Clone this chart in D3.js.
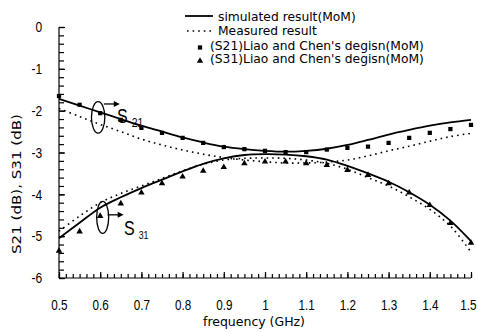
<!DOCTYPE html>
<html>
<head>
<meta charset="utf-8">
<script src="https://cdn.jsdelivr.net/npm/d3@7"></script>
<style>
  body { margin: 0; background: #fff; }
  .legend text { font-family: "DejaVu Sans", sans-serif; font-size: 12.3px; }
  .label { font-family: "DejaVu Sans", sans-serif; font-size: 13px; }
</style>
</head>
<body>
<div id="chart"></div>
<script>
// frequency points (GHz)
var freq = [0.5, 0.55, 0.6, 0.65, 0.7, 0.75, 0.8, 0.85, 0.9, 0.95, 1.0,
            1.05, 1.1, 1.15, 1.2, 1.25, 1.3, 1.35, 1.4, 1.45, 1.5];

// simulated (MoM)
var s21Sim = [-1.72, -1.88, -2.04, -2.2, -2.36, -2.5, -2.64, -2.76, -2.86, -2.92, -2.96,
              -2.98, -2.96, -2.91, -2.82, -2.7, -2.57, -2.46, -2.36, -2.28, -2.22];
var s31Sim = [-5.05, -4.68, -4.32, -4.07, -3.85, -3.65, -3.45, -3.27, -3.14, -3.06, -3.04,
              -3.05, -3.09, -3.17, -3.32, -3.5, -3.7, -3.95, -4.25, -4.63, -5.12];

// measured
var s21Meas = [-1.95, -2.14, -2.33, -2.5, -2.68, -2.82, -2.94, -3.04, -3.12, -3.18, -3.22,
               -3.25, -3.25, -3.23, -3.18, -3.08, -2.96, -2.85, -2.73, -2.62, -2.54];
var s31Meas = [-4.88, -4.52, -4.2, -3.98, -3.8, -3.62, -3.44, -3.28, -3.18, -3.14, -3.13,
               -3.14, -3.18, -3.26, -3.4, -3.6, -3.8, -4.06, -4.36, -4.76, -5.38];

// Liao and Chen's design (MoM)
var s21Liao = [-1.65, -1.86, -2.06, -2.22, -2.41, -2.53, -2.65, -2.77, -2.87, -2.92, -2.96,
               -2.99, -2.99, -2.93, -2.89, -2.86, -2.77, -2.65, -2.53, -2.44, -2.34];
var s31Liao = [-5.35, -4.89, -4.52, -4.22, -3.96, -3.74, -3.58, -3.44, -3.35, -3.26, -3.22,
               -3.22, -3.26, -3.3, -3.42, -3.54, -3.74, -3.96, -4.26, -4.69, -5.16];

var xTicks = [0.5, 0.6, 0.7, 0.8, 0.9, 1, 1.1, 1.2, 1.3, 1.4, 1.5];
var xTickLabels = ["0.5", "0.6", "0.7", "0.8", "0.9", "1", "1.1", "1.2", "1.3", "1.4", "1.5"];
var yTicks = [0, -1, -2, -3, -4, -5, -6];
var yTickLabels = ["0", "-1", "-2", "-3", "-4", "-5", "-6"];

var legendLabels = ["simulated result(MoM)", "Measured result",
                    "(S21)Liao and Chen's degisn(MoM)", "(S31)Liao and Chen's degisn(MoM)"];

var width = 477, height = 333;
var tickFont = "'Liberation Sans', Arial, sans-serif";

var svg = d3.select("#chart").append("svg")
    .attr("width", width)
    .attr("height", height);

var x = d3.scaleLinear().domain([0.5, 1.5]).range([59, 471]);
var y = d3.scaleLinear().domain([-6, 0]).range([278, 27]);

// minor ticks
var xMinor = d3.range(0, 61).map(function(i) { return 0.5 + i / 60; });
var yMinor = d3.range(0, 31).map(function(i) { return -6 + i * 0.2; });

svg.append("g")
    .attr("transform", "translate(0," + y(-6) + ")")
    .call(d3.axisBottom(x).tickValues(xMinor).tickSize(-4).tickFormat(""))
    .call(function(g) { g.select(".domain").remove(); });

svg.append("g")
    .attr("transform", "translate(" + x(0.5) + ",0)")
    .call(d3.axisLeft(y).tickValues(yMinor).tickSize(-5).tickFormat(""))
    .call(function(g) { g.select(".domain").remove(); });

// major axes (labels condensed horizontally like the original typeface)
var xAxisG = svg.append("g")
    .attr("transform", "translate(0," + y(-6) + ")")
    .call(d3.axisBottom(x).tickValues(xTicks).tickSize(-6).tickPadding(21)
        .tickFormat(function(d, i) { return xTickLabels[i]; }));
xAxisG.select(".domain").attr("d", "M" + x(0.5) + ",0H" + x(1.5));
xAxisG.selectAll(".tick text")
    .style("font-family", tickFont)
    .style("font-size", "15px")
    .attr("fill", "#000")
    .attr("transform", function(d) { return d === 1.5 ? "translate(-3,0) scale(0.78,1)" : "scale(0.78,1)"; });

var yAxisG = svg.append("g")
    .attr("transform", "translate(" + x(0.5) + ",0)")
    .call(d3.axisLeft(y).tickValues(yTicks).tickSize(-6).tickPadding(21)
        .tickFormat(function(d, i) { return yTickLabels[i]; }));
yAxisG.select(".domain").attr("d", "M0," + y(0) + "V" + y(-6));
yAxisG.selectAll(".tick text")
    .style("font-family", tickFont)
    .style("font-size", "15px")
    .attr("fill", "#000")
    .attr("transform", "scale(0.8,1)");

svg.selectAll(".tick line, .domain").attr("stroke", "#000").attr("stroke-width", 1.2);

// axis titles
svg.append("text")
    .attr("class", "label")
    .attr("transform", "translate(21,184) rotate(-90)")
    .attr("text-anchor", "middle")
    .attr("textLength", 140)
    .attr("lengthAdjust", "spacingAndGlyphs")
    .text("S21 (dB), S31 (dB)");

svg.append("text")
    .attr("class", "label")
    .attr("x", 254)
    .attr("y", 326)
    .attr("text-anchor", "middle")
    .attr("textLength", 102)
    .attr("lengthAdjust", "spacingAndGlyphs")
    .text("frequency (GHz)");

// curves
var line = d3.line()
    .x(function(d) { return x(d[0]); })
    .y(function(d) { return y(d[1]); })
    .curve(d3.curveCatmullRom);

function pairs(vals) {
    return freq.map(function(f, i) { return [f, vals[i]]; });
}

[s21Sim, s31Sim].forEach(function(s) {
    svg.append("path")
        .attr("d", line(pairs(s)))
        .attr("fill", "none")
        .attr("stroke", "#000")
        .attr("stroke-width", 1.8);
});

[s21Meas, s31Meas].forEach(function(s) {
    svg.append("path")
        .attr("d", line(pairs(s)))
        .attr("fill", "none")
        .attr("stroke", "#000")
        .attr("stroke-width", 1.6)
        .attr("stroke-dasharray", "1.6,4");
});

// markers
var square = d3.symbol().type(d3.symbolSquare).size(18);
var triangle = d3.symbol().type(d3.symbolTriangle).size(18);

svg.append("g").selectAll("path")
    .data(pairs(s21Liao))
    .enter().append("path")
    .attr("d", square)
    .attr("transform", function(d) { return "translate(" + x(d[0]) + "," + y(d[1]) + ")"; })
    .attr("fill", "#000");

svg.append("g").selectAll("path")
    .data(pairs(s31Liao))
    .enter().append("path")
    .attr("d", triangle)
    .attr("transform", function(d) { return "translate(" + x(d[0]) + "," + y(d[1]) + ")"; })
    .attr("fill", "#000");

// annotations: ellipse + arrow + label
function annotate(cf, cdb, rx, ry, arrowDb, sub, sx, sy, subSize) {
    svg.append("ellipse")
        .attr("cx", x(cf)).attr("cy", y(cdb))
        .attr("rx", rx).attr("ry", ry)
        .attr("fill", "none").attr("stroke", "#000").attr("stroke-width", 1.3);
    var ay = y(arrowDb);
    var ax0 = x(cf) + rx - 1, ax1 = ax0 + 12;
    svg.append("line")
        .attr("x1", ax0).attr("y1", ay).attr("x2", ax1).attr("y2", ay)
        .attr("stroke", "#000").attr("stroke-width", 1.3);
    svg.append("path")
        .attr("d", "M" + (ax1 + 4) + "," + ay + "L" + (ax1 - 2) + "," + (ay - 3) + "L" + (ax1 - 2) + "," + (ay + 3) + "Z")
        .attr("fill", "#000");
    var t = svg.append("g")
        .attr("transform", "translate(" + sx + "," + sy + ") scale(0.8,1)")
        .append("text")
        .style("font-family", tickFont)
        .style("font-size", "20px");
    t.append("tspan").text("S");
    t.append("tspan").attr("dx", 5).attr("dy", 4).style("font-size", subSize + "px").text(sub);
}

annotate(0.595, -2.16, 6.7, 15.8, -1.84, "21", 117, 123, 13);
annotate(0.606, -4.55, 6, 16, -4.49, "31", 124, 235, 11);

// legend
var legend = svg.append("g").attr("class", "legend");
var legendY = [21, 35, 49.5, 63];

legend.append("line")
    .attr("x1", 185).attr("x2", 213).attr("y1", legendY[0] - 5).attr("y2", legendY[0] - 5)
    .attr("stroke", "#000").attr("stroke-width", 1.8);
legend.append("line")
    .attr("x1", 187).attr("x2", 213).attr("y1", legendY[1] - 4).attr("y2", legendY[1] - 4)
    .attr("stroke", "#000").attr("stroke-width", 1.6).attr("stroke-dasharray", "1.6,4");
legend.append("path")
    .attr("d", square)
    .attr("transform", "translate(200," + (legendY[2] - 2) + ")");
legend.append("path")
    .attr("d", triangle)
    .attr("transform", "translate(200," + (legendY[3] - 2) + ")");

legend.selectAll("text")
    .data(legendLabels)
    .enter().append("text")
    .attr("x", function(d, i) { return i < 2 ? 218 : 210; })
    .attr("y", function(d, i) { return legendY[i]; })
    .text(function(d) { return d; });
</script>
</body>
</html>
